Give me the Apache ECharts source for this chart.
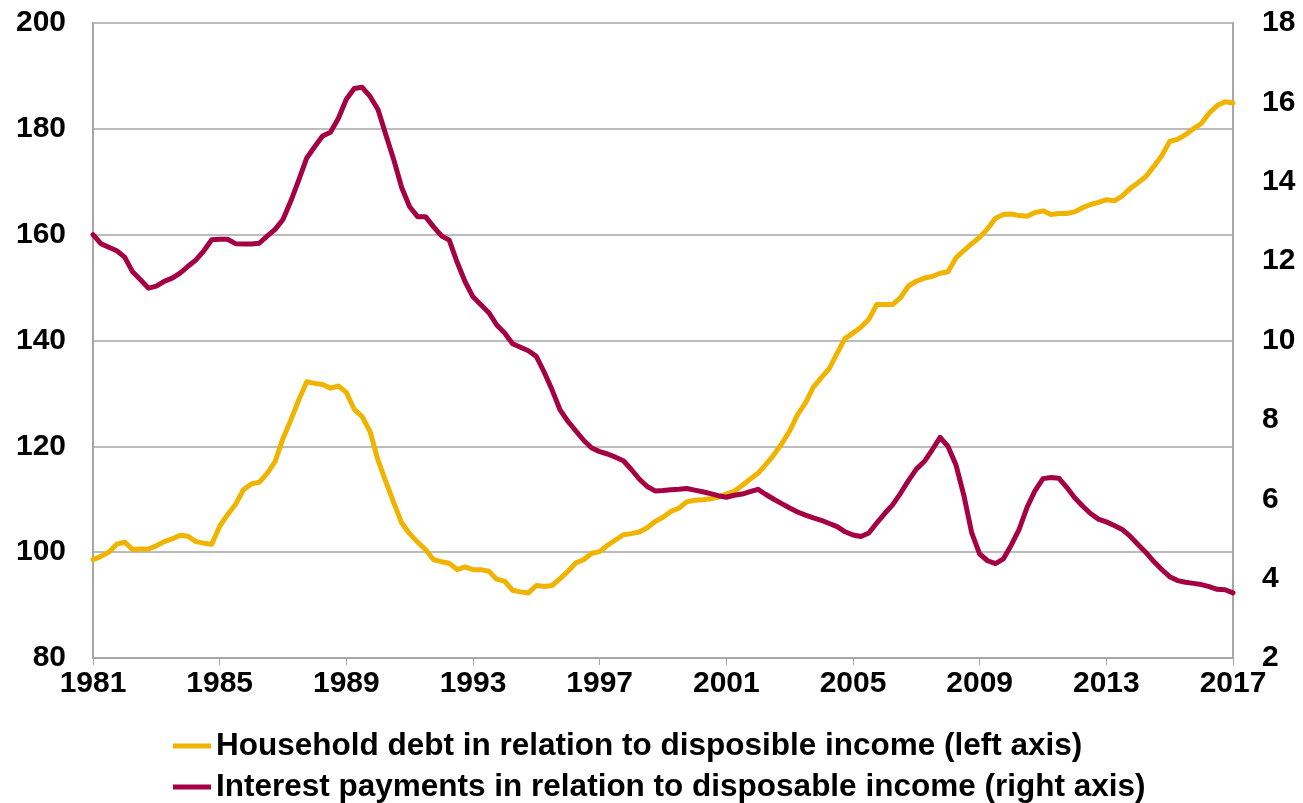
<!DOCTYPE html>
<html>
<head>
<meta charset="utf-8">
<script src="https://cdn.jsdelivr.net/npm/echarts@6/dist/echarts.min.js"></script>
<style>
html,body{margin:0;padding:0;background:#fff;}
#chart{width:1303px;height:803px;}
</style>
</head>
<body>
<div id="chart"></div>
<script>
// Quarterly observations, 1981 Q1 .. 2017 Q1
const startYear = 1981;
const quarterCount = 145;
const categories = [];
for (let i = 0; i < quarterCount; i++) {
  categories.push((startYear + Math.floor(i / 4)) + ' Q' + (i % 4 + 1));
}

const seriesNames = [
  'Household debt in relation to disposible income (left axis)',
  'Interest payments in relation to disposable income (right axis)'
];

// Household debt, % of disposable income (left axis)
const householdDebt = [
  98.6, 99.2, 100.0, 101.5, 101.9, 100.5, 100.6, 100.6,
  101.2, 102.0, 102.5, 103.2, 103.0, 102.0, 101.7, 101.5,
  104.9, 107.1, 109.0, 111.8, 112.9, 113.2, 114.9, 117.1,
  121.5, 125.0, 128.8, 132.2, 131.9, 131.7, 131.0, 131.4,
  130.2, 127.0, 125.6, 122.8, 117.4, 113.3, 109.3, 105.5,
  103.5, 101.9, 100.5, 98.6, 98.2, 97.9, 96.7, 97.2,
  96.7, 96.7, 96.4, 94.9, 94.5, 92.8, 92.5, 92.3,
  93.7, 93.5, 93.7, 95.0, 96.4, 98.0, 98.6, 99.8,
  100.1, 101.3, 102.3, 103.3, 103.5, 103.8, 104.6, 105.8,
  106.6, 107.7, 108.3, 109.5, 109.8, 109.9, 110.1, 110.4,
  111.0, 111.5, 112.6, 113.8, 114.9, 116.6, 118.4, 120.5,
  122.9, 126.0, 128.2, 131.2, 133.0, 134.7, 137.6, 140.4,
  141.4, 142.5, 144.0, 146.8, 146.8, 146.8, 148.1, 150.3,
  151.2, 151.8, 152.1, 152.7, 153.0, 155.6, 157.0, 158.3,
  159.5, 161.1, 163.1, 163.8, 163.9, 163.6, 163.5, 164.2,
  164.5, 163.8, 164.0, 164.0, 164.3, 165.1, 165.7, 166.1,
  166.6, 166.4, 167.3, 168.7, 169.8, 171.0, 172.9, 174.9,
  177.6, 178.0, 178.9, 180.0, 181.0, 183.0, 184.4, 185.1,
  184.9
];

// Interest payments, % of disposable income (right axis)
const interestPayments = [
  12.67, 12.44, 12.35, 12.26, 12.10, 11.73, 11.53, 11.32,
  11.37, 11.49, 11.57, 11.70, 11.87, 12.03, 12.26, 12.54,
  12.55, 12.55, 12.44, 12.43, 12.43, 12.45, 12.63, 12.80,
  13.05, 13.52, 14.05, 14.60, 14.88, 15.15, 15.25, 15.60,
  16.08, 16.35, 16.38, 16.15, 15.82, 15.18, 14.55, 13.85,
  13.37, 13.12, 13.12, 12.87, 12.64, 12.53, 11.97, 11.48,
  11.10, 10.90, 10.70, 10.39, 10.19, 9.92, 9.83, 9.74,
  9.60, 9.20, 8.75, 8.25, 7.96, 7.72, 7.48, 7.29,
  7.20, 7.14, 7.06, 6.97, 6.75, 6.51, 6.32, 6.21,
  6.22, 6.24, 6.25, 6.27, 6.23, 6.19, 6.14, 6.09,
  6.05, 6.10, 6.13, 6.19, 6.25, 6.12, 6.00, 5.89,
  5.78, 5.68, 5.60, 5.53, 5.47, 5.39, 5.31, 5.18,
  5.10, 5.06, 5.15, 5.40, 5.64, 5.86, 6.15, 6.47,
  6.76, 6.95, 7.24, 7.56, 7.33, 6.87, 6.10, 5.15,
  4.62, 4.45, 4.38, 4.50, 4.85, 5.25, 5.80, 6.22,
  6.52, 6.55, 6.53, 6.30, 6.04, 5.83, 5.64, 5.50,
  5.43, 5.34, 5.24, 5.07, 4.86, 4.66, 4.43, 4.23,
  4.05, 3.95, 3.91, 3.88, 3.85, 3.80, 3.73, 3.72,
  3.64
];

const leftAxis = { min: 80, max: 200, interval: 20 };
const rightAxis = { min: 2, max: 18, interval: 2 };

const colors = ['#F0B400', '#A50044'];
const fontFamily = '"Liberation Sans", Arial, sans-serif';
const gridColor = '#A6A6A6';

const legendText = { fontFamily: fontFamily, fontWeight: 'bold', fontSize: 31.5, color: '#000' };
function legendFor(name, top) {
  return {
    orient: 'horizontal',
    left: 168,
    top: top,
    itemWidth: 38,
    itemHeight: 5,
    icon: 'rect',
    textStyle: legendText,
    data: [name]
  };
}

const chart = echarts.init(document.getElementById('chart'), null, { renderer: 'canvas' });
chart.setOption({
  animation: false,
  backgroundColor: '#ffffff',
  color: colors,
  grid: { left: 93, right: 70, top: 23, bottom: 145, containLabel: false },
  legend: [
    legendFor(seriesNames[0], 725),
    legendFor(seriesNames[1], 766)
  ],
  xAxis: {
    type: 'category',
    data: categories,
    boundaryGap: false,
    axisLine: { show: true, lineStyle: { color: gridColor, width: 2 } },
    axisTick: { show: true, interval: 15, length: 7, lineStyle: { color: gridColor, width: 1 } },
    axisLabel: {
      interval: 15,
      margin: 11,
      formatter: v => v.slice(0, 4),
      fontFamily: fontFamily, fontWeight: 'bold', fontSize: 30, color: '#000'
    },
    splitLine: { show: false }
  },
  yAxis: [
    {
      type: 'value',
      position: 'left',
      min: leftAxis.min, max: leftAxis.max, interval: leftAxis.interval,
      axisLine: { show: true, lineStyle: { color: gridColor, width: 2 } },
      axisTick: { show: false },
      axisLabel: { margin: 27, fontFamily: fontFamily, fontWeight: 'bold', fontSize: 30, color: '#000' },
      splitLine: { show: true, lineStyle: { color: gridColor, width: 1.5 } }
    },
    {
      type: 'value',
      position: 'right',
      min: rightAxis.min, max: rightAxis.max, interval: rightAxis.interval,
      axisLine: { show: true, lineStyle: { color: gridColor, width: 2 } },
      axisTick: { show: false },
      axisLabel: { margin: 29, fontFamily: fontFamily, fontWeight: 'bold', fontSize: 30, color: '#000' },
      splitLine: { show: false }
    }
  ],
  series: [
    {
      name: seriesNames[0],
      type: 'line',
      yAxisIndex: 0,
      data: householdDebt,
      showSymbol: false,
      symbol: 'none',
      lineStyle: { width: 5, color: colors[0], cap: 'round', join: 'round' }
    },
    {
      name: seriesNames[1],
      type: 'line',
      yAxisIndex: 1,
      data: interestPayments,
      showSymbol: false,
      symbol: 'none',
      lineStyle: { width: 5, color: colors[1], cap: 'round', join: 'round' }
    }
  ]
});
</script>
</body>
</html>
